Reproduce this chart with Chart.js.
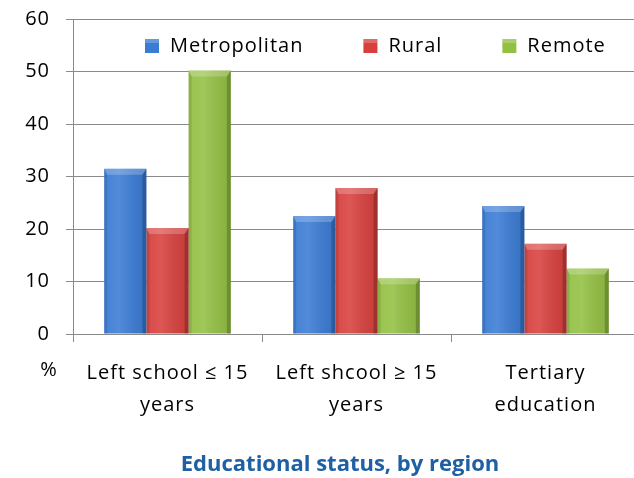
<!DOCTYPE html>
<html>
<head>
<meta charset="utf-8">
<script src="https://cdn.jsdelivr.net/npm/chart.js@4"></script>
<style>
  html, body { margin: 0; padding: 0; background: #fff; overflow: hidden; }
  #wrap { width: 634px; height: 478px; overflow: hidden; }
</style>
</head>
<body>
<div id="wrap"><canvas id="chart" width="680" height="478"></canvas></div>
<script>
const categories = [["Left school \u2264 15", "years"], ["Left shcool \u2265 15", "years"], ["Tertiary", "education"]];
const metropolitan = [31.5, 22.5, 24.4];
const rural = [20.2, 27.8, 17.2];
const remote = [50.2, 10.6, 12.5];
const yTicks = [0, 10, 20, 30, 40, 50, 60];
const titleText = "Educational status, by region";

const font = "'Open Sans', 'Liberation Sans', sans-serif";
const grey = "#8a8a8a";

const bevel = {
  id: "bevel",
  afterDatasetsDraw(chart) {
    const ctx = chart.ctx;
    chart.data.datasets.forEach((ds, i) => {
      chart.getDatasetMeta(i).data.forEach(bar => {
        const { x, y, width, base } = bar.getProps(["x", "y", "width", "base"], true);
        const l = x - width / 2, r = x + width / 2, t = y, b = base, d = 6;
        ctx.save();
        const g = ctx.createLinearGradient(l, 0, r, 0);
        g.addColorStop(0, "rgba(255,255,255,0.05)");
        g.addColorStop(0.35, "rgba(255,255,255,0.12)");
        g.addColorStop(1, "rgba(0,0,0,0.08)");
        ctx.fillStyle = g;
        ctx.fillRect(l, t, r - l, b - t);
        poly(ctx, [[l, t], [l + 3, t + d], [l + 3, b], [l, b]], "rgba(0,0,0,0.10)");
        poly(ctx, [[r, t], [r - 4, t + d], [r - 4, b], [r, b]], "rgba(0,0,0,0.20)");
        poly(ctx, [[l, t], [r, t], [r - 4, t + d], [l + 3, t + d]], "rgba(255,255,255,0.22)");
        ctx.restore();
      });
    });
  }
};

function poly(ctx, pts, color) {
  ctx.beginPath();
  pts.forEach(([px, py], k) => k ? ctx.lineTo(px, py) : ctx.moveTo(px, py));
  ctx.closePath();
  ctx.fillStyle = color;
  ctx.fill();
}

const extras = {
  id: "extras",
  beforeLayout(chart) { chart.ctx.letterSpacing = "1px"; },
  beforeDraw(chart) { chart.ctx.letterSpacing = "1px"; },
  afterDraw(chart) {
    const ctx = chart.ctx;
    const area = chart.chartArea;
    ctx.save();
    ctx.letterSpacing = "1px";
    ctx.font = "20px " + font;
    ctx.fillStyle = "#000";
    ctx.textBaseline = "middle";
    ctx.textAlign = "center";
    ctx.fillText("%", 49, chart.scales.y.getPixelForValue(0) + 36);
    // legend inside the plot
    ctx.textAlign = "left";
    let cx = area.left + 72;
    const cy = area.top + 27;
    chart.data.datasets.forEach(ds => {
      ctx.fillStyle = ds.backgroundColor;
      ctx.fillRect(cx, cy - 7, 14, 14);
      ctx.fillStyle = "rgba(255,255,255,0.22)";
      ctx.fillRect(cx, cy - 7, 14, 4);
      ctx.fillStyle = "#000";
      ctx.fillText(ds.label, cx + 25, cy);
      cx += 25 + ctx.measureText(ds.label).width + 60;
    });
    // chart title
    ctx.letterSpacing = "0px";
    ctx.font = "bold 22px " + font;
    ctx.fillStyle = "#1f5fa3";
    ctx.textAlign = "center";
    ctx.fillText(titleText, chart.width / 2, chart.height - 13);
    ctx.restore();
  }
};

new Chart(document.getElementById("chart"), {
  type: "bar",
  data: {
    labels: categories,
    datasets: [
      { label: "Metropolitan", data: metropolitan, backgroundColor: "#3a7bd4" },
      { label: "Rural", data: rural, backgroundColor: "#d7403d" },
      { label: "Remote", data: remote, backgroundColor: "#93c043" }
    ]
  },
  options: {
    responsive: false,
    animation: false,
    layout: { padding: { top: 19, right: 40, left: 0, bottom: 27 } },
    categoryPercentage: 0.67,
    barPercentage: 1,
    plugins: {
      legend: { display: false },
      tooltip: { enabled: false },
      title: { display: false }
    },
    scales: {
      x: {
        grid: { drawOnChartArea: false, color: grey, tickLength: 8, offset: true },
        border: { color: grey },
        ticks: { color: "#000", padding: 15, font: { family: font, size: 20, lineHeight: 1.6 }, maxRotation: 0 },
        afterFit: scale => { scale.height = 117; }
      },
      y: {
        min: 0,
        max: 60,
        afterBuildTicks: scale => { scale.ticks = yTicks.map(value => ({ value })); },
        grid: { color: grey, tickLength: 7 },
        border: { color: grey },
        ticks: { color: "#000", padding: 16, font: { family: font, size: 20 } },
        afterFit: scale => {
          scale.width = 73;
          scale.paddingTop = 0;
          scale.paddingBottom = 0;
        }
      }
    }
  },
  plugins: [bevel, extras]
});
</script>
</body>
</html>
